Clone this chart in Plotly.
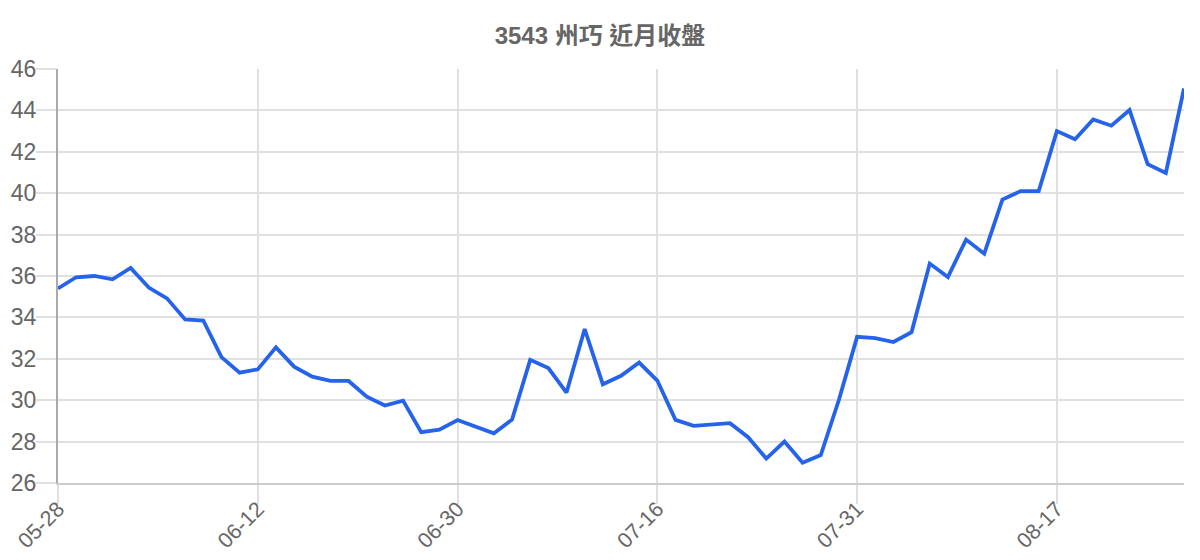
import plotly.graph_objects as go

title_text = "3543 州巧 近月收盤"

dates = [
    "05-28", "05-29", "05-30", "06-02", "06-03", "06-04", "06-05", "06-06", "06-09", "06-10", "06-11",
    "06-12", "06-13", "06-16", "06-17", "06-18", "06-19", "06-20", "06-23", "06-24", "06-25", "06-26",
    "06-30", "07-01", "07-02", "07-03", "07-04", "07-07", "07-08", "07-09", "07-10", "07-11", "07-14",
    "07-16", "07-17", "07-18", "07-21", "07-22", "07-23", "07-24", "07-25", "07-28", "07-29", "07-30",
    "07-31", "08-01", "08-04", "08-05", "08-06", "08-07", "08-08", "08-11", "08-12", "08-13", "08-14",
    "08-17", "08-18", "08-19", "08-20", "08-21", "08-22", "08-25", "08-26",
]

close = [
    35.40, 35.94, 36.00, 35.84, 36.39, 35.44, 34.92, 33.90, 33.85, 32.08, 31.33,
    31.49, 32.55, 31.62, 31.14, 30.93, 30.93, 30.17, 29.74, 29.98, 28.46, 28.58,
    29.04, 28.72, 28.40, 29.06, 31.95, 31.55, 30.37, 33.44, 30.77, 31.18, 31.82,
    30.95, 29.05, 28.76, 28.84, 28.89, 28.21, 27.18, 28.00, 26.98, 27.35, 30.02,
    33.06, 33.00, 32.81, 33.29, 36.60, 35.95, 37.76, 37.08, 39.69, 40.10, 40.10,
    43.00, 42.61, 43.56, 43.26, 44.02, 41.40, 40.98, 45.06,
]

x_ticks = ["05-28", "06-12", "06-30", "07-16", "07-31", "08-17"]
y_ticks = [26, 28, 30, 32, 34, 36, 38, 40, 42, 44, 46]

font_family = "Liberation Sans, Arial, Noto Sans CJK TC, sans-serif"
grid_color = "#e0e0e0"
text_color = "#666666"

fig = go.Figure()
fig.add_trace(go.Scatter(
    x=dates,
    y=close,
    mode="lines",
    line=dict(color="#2563eb", width=3.8),
    hoverinfo="x+y",
))

fig.update_layout(
    width=1200,
    height=560,
    paper_bgcolor="white",
    plot_bgcolor="white",
    showlegend=False,
    margin=dict(l=50, r=24, t=61, b=85),
    font=dict(family=font_family, color=text_color),
    title=dict(
        text="<b>" + title_text + "</b>",
        x=592 / 1200,
        xref="container",
        xanchor="center",
        y=1 - 28 / 560,
        yref="container",
        yanchor="middle",
        font=dict(size=24, color=text_color, family=font_family),
    ),
)

fig.update_xaxes(
    type="category",
    categoryorder="array",
    categoryarray=dates,
    range=[0, len(dates) - 1],
    tickmode="array",
    tickvals=x_ticks,
    ticktext=x_ticks,
    tickangle=-45,
    ticks="outside",
    ticklen=19,
    tickcolor=grid_color,
    tickwidth=1.5,
    showgrid=True,
    gridcolor=grid_color,
    gridwidth=1.5,
    showline=True,
    linecolor="#cccccc",
    linewidth=2,
    zeroline=False,
    automargin=False,
    tickfont=dict(size=21.5, color=text_color, family=font_family),
    ticklabelstandoff=-16,
)

fig.update_yaxes(
    range=[26, 46],
    tickmode="array",
    tickvals=y_ticks,
    ticks="outside",
    ticklen=20,
    tickcolor=grid_color,
    tickwidth=1.5,
    showgrid=True,
    gridcolor=grid_color,
    gridwidth=1.5,
    showline=True,
    linecolor="#aaaaaa",
    linewidth=2,
    zeroline=False,
    automargin=False,
    tickfont=dict(size=23, color=text_color, family=font_family),
    ticklabelstandoff=-5,
)

fig.write_html("out.html")
